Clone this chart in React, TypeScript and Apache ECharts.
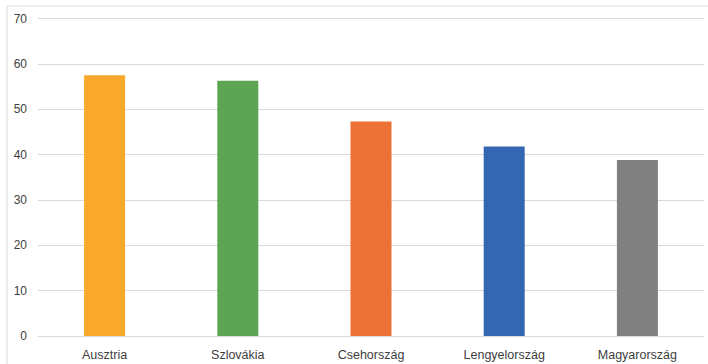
import React, { useEffect, useRef } from "react";
import * as echarts from "echarts";

const categories = ["Ausztria", "Szlovákia", "Csehország", "Lengyelország", "Magyarország"];
const values = [57.5, 56.3, 47.3, 41.8, 38.8];
const barColors = ["#F9A92A", "#5BA553", "#EC7135", "#3566B2", "#808080"];
const yMin = 0;
const yMax = 70;
const yInterval = 10;

export default function App() {
  const ref = useRef<HTMLDivElement>(null);
  useEffect(() => {
    if (!ref.current) return;
    const chart = echarts.init(ref.current, undefined, { renderer: "svg" });
    const font = "'Liberation Sans', Arial, sans-serif";
    chart.setOption({
      animation: false,
      backgroundColor: "#ffffff",
      grid: { left: 38, right: 4, top: 18.5, bottom: 28, containLabel: false },
      xAxis: {
        type: "category",
        data: categories,
        axisLine: { show: true, lineStyle: { color: "#d9d9d9", width: 1 } },
        axisTick: { show: false },
        axisLabel: { color: "#404040", fontSize: 12.5, fontFamily: font, margin: 12 },
        splitLine: { show: false },
      },
      yAxis: {
        type: "value",
        min: yMin,
        max: yMax,
        interval: yInterval,
        axisLine: { show: false },
        axisTick: { show: false },
        axisLabel: { color: "#404040", fontSize: 12, fontFamily: font, margin: 11 },
        splitLine: { show: true, lineStyle: { color: "#d9d9d9", width: 1 } },
      },
      series: [
        {
          type: "bar",
          barWidth: 41,
          data: values.map((v, i) => ({ value: v, itemStyle: { color: barColors[i] } })),
        },
      ],
      graphic: [
        {
          type: "rect",
          silent: true,
          shape: { x: 7, y: 6, width: 720, height: 400 },
          style: { fill: "none", stroke: "#dcdcdc", lineWidth: 1 },
          z: 100,
        },
      ],
    });
    return () => chart.dispose();
  }, []);
  return (
    <div
      ref={ref}
      style={{ position: "fixed", left: 0, top: 0, width: 708, height: 364, background: "#fff" }}
    />
  );
}
